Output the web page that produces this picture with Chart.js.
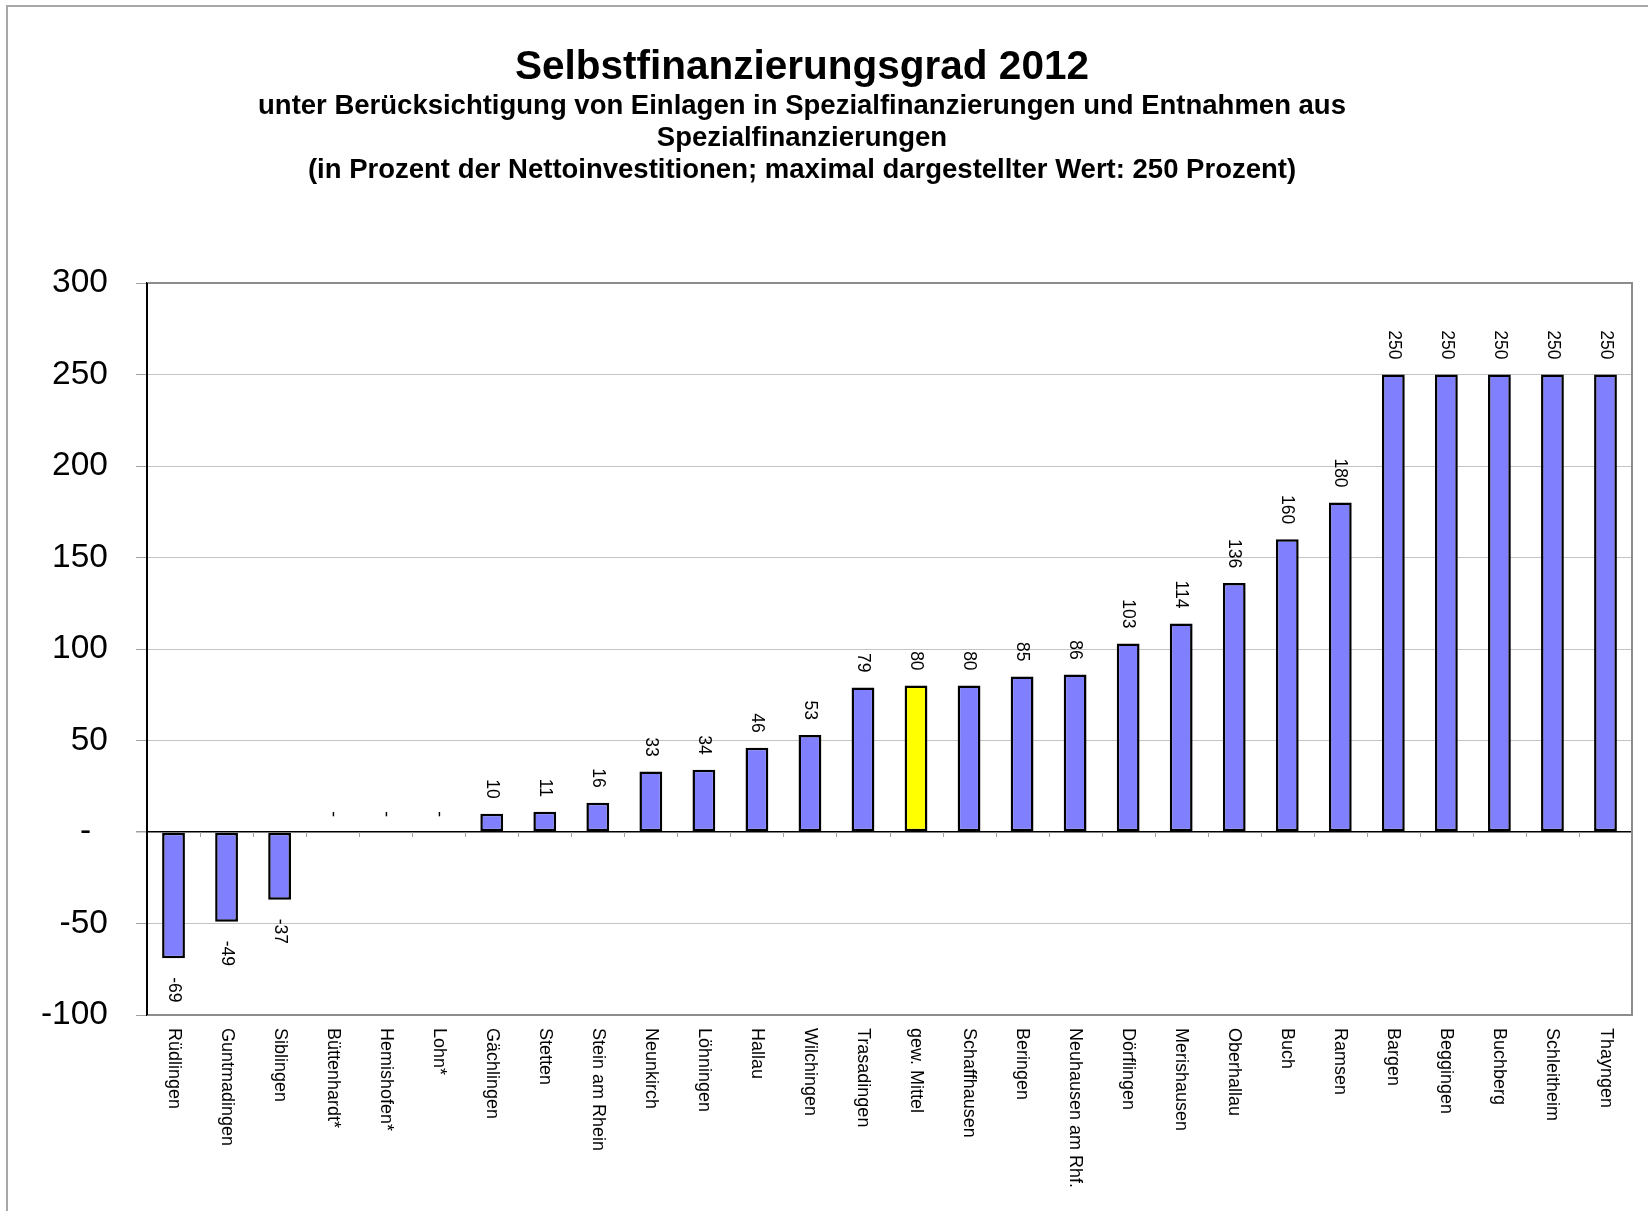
<!DOCTYPE html>
<html lang="de">
<head>
<meta charset="UTF-8">
<title>Selbstfinanzierungsgrad 2012</title>
<script src="https://cdn.jsdelivr.net/npm/chart.js@4.4.1/dist/chart.umd.min.js"></script>
<style>
    html, body { margin: 0; padding: 0; background: #fff; }
    #chart { display: block; }
</style>
</head>
<body>
<canvas id="chart" width="1648" height="1211"></canvas>

<script>
// Gemeinden (x-Achse) und Selbstfinanzierungsgrad in Prozent
const gemeinden = [
    "Rüdlingen", "Guntmadingen", "Siblingen", "Büttenhardt*", "Hemishofen*", "Lohn*",
    "Gächlingen", "Stetten", "Stein am Rhein", "Neunkirch", "Löhningen", "Hallau",
    "Wilchingen", "Trasadingen", "gew. Mittel", "Schaffhausen", "Beringen",
    "Neuhausen am Rhf.", "Dörflingen", "Merishausen", "Oberhallau", "Buch", "Ramsen",
    "Bargen", "Beggingen", "Buchberg", "Schleitheim", "Thayngen"
];
const werte = [
    -69, -49, -37, 0, 0, 0,
    10, 11, 16, 33, 34, 46,
    53, 79, 80, 80, 85,
    86, 103, 114, 136, 160, 180,
    250, 250, 250, 250, 250
];
const mittel = "gew. Mittel";

const yMin = -100, yMax = 300, yStep = 50;

const titel = "Selbstfinanzierungsgrad 2012";
const untertitel = [
    "unter Berücksichtigung von Einlagen in Spezialfinanzierungen und Entnahmen aus",
    "Spezialfinanzierungen",
    "(in Prozent der Nettoinvestitionen; maximal dargestellter Wert: 250 Prozent)"
];

const FONT = '"Liberation Sans", Arial, Helvetica, sans-serif';

// draws titles, frame, data labels and rotated category labels
const extras = {
    id: 'extras',
    beforeDraw(chart) {
        const c = chart.ctx;
        c.save();
        c.fillStyle = '#fff';
        c.fillRect(0, 0, chart.width, chart.height);
        // page frame
        c.strokeStyle = '#a8a8a8';
        c.lineWidth = 2;
        c.beginPath();
        c.moveTo(7, chart.height);
        c.lineTo(7, 6);
        c.lineTo(chart.width, 6);
        c.stroke();
        // titles
        c.fillStyle = '#000';
        c.textAlign = 'center';
        c.textBaseline = 'alphabetic';
        c.font = 'bold 40.5px ' + FONT;
        c.fillText(titel, 802, 79);
        c.font = 'bold 27.5px ' + FONT;
        untertitel.forEach((t, i) => c.fillText(t, 802, 114 + i * 32));
        c.restore();
    },
    afterDatasetsDraw(chart) {
        const c = chart.ctx;
        const a = chart.chartArea;
        const x = chart.scales.x, y = chart.scales.y;
        c.save();

        // plot frame
        c.strokeStyle = '#8c8c8c';
        c.lineWidth = 2;
        c.beginPath();
        c.moveTo(a.left, a.top);
        c.lineTo(a.right, a.top);
        c.lineTo(a.right, a.bottom);
        c.lineTo(a.left, a.bottom);
        c.stroke();
        c.strokeStyle = '#000';
        c.beginPath();
        c.moveTo(a.left, a.top);
        c.lineTo(a.left, a.bottom);
        c.stroke();

        // small category ticks on the zero line
        const y0 = y.getPixelForValue(0);
        const step = (a.right - a.left) / gemeinden.length;
        c.strokeStyle = '#a0a0a0';
        c.lineWidth = 1;
        for (let i = 1; i < gemeinden.length; i++) {
            const px = Math.round(a.left + i * step) + 0.5;
            c.beginPath();
            c.moveTo(px, y0);
            c.lineTo(px, y0 + 5);
            c.stroke();
        }

        // value labels (rotated, reading top to bottom)
        c.fillStyle = '#000';
        c.textBaseline = 'middle';
        c.font = '17.5px ' + FONT;
        chart.getDatasetMeta(0).data.forEach((bar, i) => {
            const v = werte[i];
            c.save();
            if (v >= 0) {
                c.translate(bar.x, bar.y - 15);
                c.rotate(Math.PI / 2);
                c.textAlign = 'right';
            } else {
                c.translate(bar.x, bar.y + 19);
                c.rotate(Math.PI / 2);
                c.textAlign = 'left';
            }
            c.fillText(v === 0 ? '-' : String(v), 0, 0);
            c.restore();
        });

        // category labels
        c.font = '18px ' + FONT;
        c.textAlign = 'left';
        gemeinden.forEach((name, i) => {
            const px = x.getPixelForValue(i);
            c.save();
            c.translate(px, a.bottom + 13);
            c.rotate(Math.PI / 2);
            c.fillText(name, 0, 0);
            c.restore();
        });
        c.restore();
    }
};

const ctx = document.getElementById('chart').getContext('2d');
new Chart(ctx, {
    type: 'bar',
    data: {
        labels: gemeinden,
        datasets: [{
            data: werte,
            backgroundColor: gemeinden.map(g => g === mittel ? '#FFFF00' : '#8080FF'),
            borderColor: '#000',
            borderWidth: 2.5,
            borderSkipped: false,
            barPercentage: 0.43,
            categoryPercentage: 1
        }]
    },
    options: {
        responsive: false,
        animation: false,
        layout: { padding: { top: 283, right: 16, bottom: 0, left: 0 } },
        plugins: {
            legend: { display: false },
            tooltip: { enabled: false },
            title: { display: false }
        },
        scales: {
            x: {
                ticks: { display: false },
                grid: { display: false, drawTicks: false },
                border: { display: false },
                afterFit: s => { s.height = 1211 - 1015; }
            },
            y: {
                min: yMin,
                max: yMax,
                afterFit: s => { s.width = 147; },
                ticks: {
                    stepSize: yStep,
                    padding: 28,
                    color: '#000',
                    font: { family: FONT, size: 33.5 },
                    // Excel-Format: Null als Strich mit Leerraum
                    callback: v => v === 0 ? '-\u2002' : v
                },
                grid: {
                    color: c => c.tick && c.tick.value === 0 ? '#000' : '#c4c4c4',
                    lineWidth: c => c.tick && c.tick.value === 0 ? 1.5 : 1,
                    tickColor: '#a0a0a0',
                    tickLength: 11
                },
                border: { color: '#000', width: 2 }
            }
        }
    },
    plugins: [extras]
});
</script>
</body>
</html>
